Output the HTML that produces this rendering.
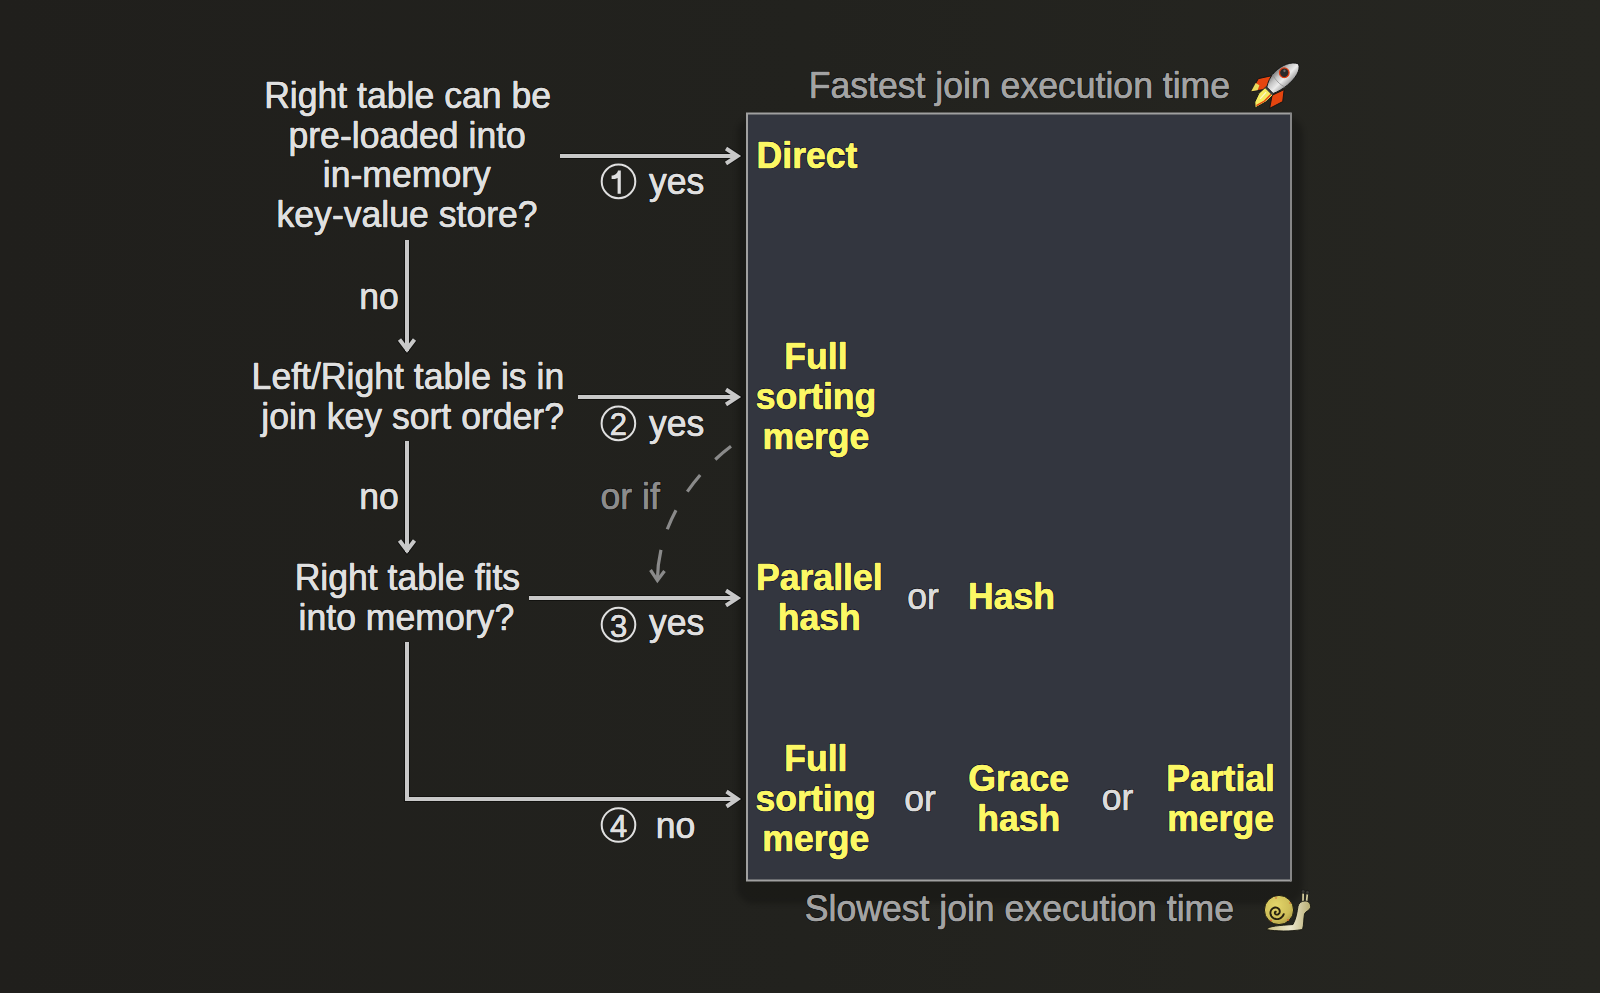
<!DOCTYPE html>
<html><head><meta charset="utf-8">
<style>
html,body{margin:0;padding:0;background:#21211d;width:1600px;height:993px;overflow:hidden}
svg{display:block}
text{font-family:"Liberation Sans",sans-serif;font-size:35.6px}
.q{fill:#e0e0e0}
text{paint-order:stroke;stroke-linejoin:round}
.h{stroke:rgba(0,0,0,0.6);stroke-width:2.0px}
.y.h{stroke:rgba(0,0,50,0.8)}
.t{stroke-width:0.6px}
.q.t,.dg.t{stroke:#e0e0e0} .y.t{stroke:#fcf864} .g.t{stroke:#a3a3a3} .or.t{stroke:#dcdcdc} .oi.t{stroke:#8c8c8c}
.y{fill:#fcf864;font-weight:bold}
.g{fill:#a3a3a3}
.or{fill:#dcdcdc}
.oi{fill:#8c8c8c}
.dg{fill:#e0e0e0;font-size:31px}
.arr{stroke:#c8c8c8;stroke-width:4;fill:none;stroke-linecap:butt;stroke-linejoin:miter}
</style></head>
<body>
<svg width="1600" height="993" viewBox="0 0 1600 993">
<defs>
<filter id="sh" x="-10%" y="-10%" width="120%" height="120%"><feGaussianBlur stdDeviation="2.5"/></filter>
</defs>
<linearGradient id="bgg" x1="0" y1="0" x2="1" y2="0"><stop offset="0" stop-color="#201f1c"/><stop offset="0.5" stop-color="#22221e"/><stop offset="1" stop-color="#262621"/></linearGradient>
<rect width="1600" height="993" fill="url(#bgg)"/>
<!-- box -->
<rect x="737" y="116" width="566" height="788" rx="18" fill="#000" opacity="0.2" filter="url(#sh)"/>
<rect x="747" y="113.5" width="544" height="767.5" fill="#33363f"/>
<path d="M746 113.5 H1290.5 M747 112.5 V881.5 M746 880.5 H1291" stroke="#a0a0a0" stroke-width="2" fill="none"/>
<path d="M1291 112.5 V881.5" stroke="#868686" stroke-width="2"/>
<!-- circled numbers -->
<g fill="none" stroke="#e0e0e0" stroke-width="2">
<circle cx="618.5" cy="181.4" r="16.8"/>
<circle cx="618.4" cy="423.4" r="16.8"/>
<circle cx="618.5" cy="624.6" r="16.8"/>
<circle cx="618.5" cy="825" r="16.8"/>
</g>
<path fill="#e0e0e0" d="M611.6 175.6 C614.6 175.4 617.2 174.2 618 170.6 L620.8 170.6 L620.8 193.7 L617.6 193.7 L617.6 177.9 C616 178.8 614 179.1 611.6 179.1 Z"/>
<text class="dg h" x="618.4" y="0" text-anchor="middle" transform="translate(0 435.4) scale(1 1.035)">2</text><text class="dg t" x="618.4" y="0" text-anchor="middle" transform="translate(0 435.4) scale(1 1.035)">2</text>
<text class="dg h" x="618.5" y="0" text-anchor="middle" transform="translate(0 636.6) scale(1 1.035)">3</text><text class="dg t" x="618.5" y="0" text-anchor="middle" transform="translate(0 636.6) scale(1 1.035)">3</text>
<text class="dg h" x="618.5" y="0" text-anchor="middle" transform="translate(0 837) scale(1 1.035)">4</text><text class="dg t" x="618.5" y="0" text-anchor="middle" transform="translate(0 837) scale(1 1.035)">4</text>
<!-- arrows -->
<g class="arr" style="stroke:rgba(0,0,0,0.45);stroke-width:6">
<path d="M407 240 V351"/><path d="M399.5 339.5 L407 349.5 L414.5 339.5"/>
<path d="M407 441 V552"/><path d="M399.5 540.5 L407 550.5 L414.5 540.5"/>
<path d="M407 642 V799 H737"/><path d="M726.5 791.5 L737.5 799 L726.5 806.5"/>
<path d="M560 156 H737"/><path d="M726 148.5 L737.5 156 L726 163.5"/>
<path d="M578 397 H737"/><path d="M726 389.5 L737.5 397 L726 404.5"/>
<path d="M529 598 H737"/><path d="M726 590.5 L737.5 598 L726 605.5"/>
</g>
<g class="arr">
<path d="M407 240 V351"/><path d="M399.5 339.5 L407 349.5 L414.5 339.5"/>
<path d="M407 441 V552"/><path d="M399.5 540.5 L407 550.5 L414.5 540.5"/>
<path d="M407 642 V799 H737"/><path d="M726.5 791.5 L737.5 799 L726.5 806.5"/>
<path d="M560 156 H737"/><path d="M726 148.5 L737.5 156 L726 163.5"/>
<path d="M578 397 H737"/><path d="M726 389.5 L737.5 397 L726 404.5"/>
<path d="M529 598 H737"/><path d="M726 590.5 L737.5 598 L726 605.5"/>
</g>
<path d="M731 446.3 C688.6 478.2 657.7 528.4 657.4 580" fill="none" stroke="#8a8a8a" stroke-width="3.2" stroke-dasharray="20.5 21.7 21 21.7 21 21.6 60"/>
<path d="M650.5 570 L657.4 580.5 L664.5 571" fill="none" stroke="#8a8a8a" stroke-width="3.2"/>
<!-- text -->
<text class="g h" x="1019.4" y="0" text-anchor="middle" transform="translate(0 97.8) scale(1 1.035)">Fastest join execution time</text><text class="g t" x="1019.4" y="0" text-anchor="middle" transform="translate(0 97.8) scale(1 1.035)">Fastest join execution time</text>
<text class="g h" x="1019.4" y="0" text-anchor="middle" transform="translate(0 921.3) scale(1 1.035)">Slowest join execution time</text><text class="g t" x="1019.4" y="0" text-anchor="middle" transform="translate(0 921.3) scale(1 1.035)">Slowest join execution time</text>
<text class="q h" x="407.6" y="0" text-anchor="middle" transform="translate(0 107.6) scale(1 1.035)">Right table can be</text><text class="q t" x="407.6" y="0" text-anchor="middle" transform="translate(0 107.6) scale(1 1.035)">Right table can be</text>
<text class="q h" x="407.2" y="0" text-anchor="middle" transform="translate(0 147.5) scale(1 1.035)">pre-loaded into</text><text class="q t" x="407.2" y="0" text-anchor="middle" transform="translate(0 147.5) scale(1 1.035)">pre-loaded into</text>
<text class="q h" x="406.8" y="0" text-anchor="middle" transform="translate(0 187.4) scale(1 1.035)">in-memory</text><text class="q t" x="406.8" y="0" text-anchor="middle" transform="translate(0 187.4) scale(1 1.035)">in-memory</text>
<text class="q h" x="407.1" y="0" text-anchor="middle" transform="translate(0 227.3) scale(1 1.035)">key-value store?</text><text class="q t" x="407.1" y="0" text-anchor="middle" transform="translate(0 227.3) scale(1 1.035)">key-value store?</text>
<text class="q h" x="407.9" y="0" text-anchor="middle" transform="translate(0 389) scale(1 1.035)">Left/Right table is in</text><text class="q t" x="407.9" y="0" text-anchor="middle" transform="translate(0 389) scale(1 1.035)">Left/Right table is in</text>
<text class="q h" x="412.7" y="0" text-anchor="middle" transform="translate(0 429) scale(1 1.035)">join key sort order?</text><text class="q t" x="412.7" y="0" text-anchor="middle" transform="translate(0 429) scale(1 1.035)">join key sort order?</text>
<text class="q h" x="407.4" y="0" text-anchor="middle" transform="translate(0 589.5) scale(1 1.035)">Right table fits</text><text class="q t" x="407.4" y="0" text-anchor="middle" transform="translate(0 589.5) scale(1 1.035)">Right table fits</text>
<text class="q h" x="406.4" y="0" text-anchor="middle" transform="translate(0 629.6) scale(1 1.035)">into memory?</text><text class="q t" x="406.4" y="0" text-anchor="middle" transform="translate(0 629.6) scale(1 1.035)">into memory?</text>
<text class="q h" x="379" y="0" text-anchor="middle" transform="translate(0 308.5) scale(1 1.035)">no</text><text class="q t" x="379" y="0" text-anchor="middle" transform="translate(0 308.5) scale(1 1.035)">no</text>
<text class="q h" x="379" y="0" text-anchor="middle" transform="translate(0 509.2) scale(1 1.035)">no</text><text class="q t" x="379" y="0" text-anchor="middle" transform="translate(0 509.2) scale(1 1.035)">no</text>
<text class="q h" x="649" y="0" text-anchor="start" transform="translate(0 194.1) scale(1 1.035)">yes</text><text class="q t" x="649" y="0" text-anchor="start" transform="translate(0 194.1) scale(1 1.035)">yes</text>
<text class="q h" x="649" y="0" text-anchor="start" transform="translate(0 435.8) scale(1 1.035)">yes</text><text class="q t" x="649" y="0" text-anchor="start" transform="translate(0 435.8) scale(1 1.035)">yes</text>
<text class="q h" x="649" y="0" text-anchor="start" transform="translate(0 634.5) scale(1 1.035)">yes</text><text class="q t" x="649" y="0" text-anchor="start" transform="translate(0 634.5) scale(1 1.035)">yes</text>
<text class="q h" x="655.7" y="0" text-anchor="start" transform="translate(0 837.5) scale(1 1.035)">no</text><text class="q t" x="655.7" y="0" text-anchor="start" transform="translate(0 837.5) scale(1 1.035)">no</text>
<text class="oi h" x="600.5" y="0" text-anchor="start" transform="translate(0 509.4) scale(1 1.035)">or if</text><text class="oi t" x="600.5" y="0" text-anchor="start" transform="translate(0 509.4) scale(1 1.035)">or if</text>
<text class="y h" x="807" y="0" text-anchor="middle" transform="translate(0 168.3) scale(1 1.035)">Direct</text><text class="y t" x="807" y="0" text-anchor="middle" transform="translate(0 168.3) scale(1 1.035)">Direct</text>
<text class="y h" x="816" y="0" text-anchor="middle" transform="translate(0 369.3) scale(1 1.035)">Full</text><text class="y t" x="816" y="0" text-anchor="middle" transform="translate(0 369.3) scale(1 1.035)">Full</text>
<text class="y h" x="816" y="0" text-anchor="middle" transform="translate(0 409) scale(1 1.035)">sorting</text><text class="y t" x="816" y="0" text-anchor="middle" transform="translate(0 409) scale(1 1.035)">sorting</text>
<text class="y h" x="816" y="0" text-anchor="middle" transform="translate(0 449.1) scale(1 1.035)">merge</text><text class="y t" x="816" y="0" text-anchor="middle" transform="translate(0 449.1) scale(1 1.035)">merge</text>
<text class="y h" x="819.3" y="0" text-anchor="middle" transform="translate(0 590) scale(1 1.035)">Parallel</text><text class="y t" x="819.3" y="0" text-anchor="middle" transform="translate(0 590) scale(1 1.035)">Parallel</text>
<text class="y h" x="819.3" y="0" text-anchor="middle" transform="translate(0 630) scale(1 1.035)">hash</text><text class="y t" x="819.3" y="0" text-anchor="middle" transform="translate(0 630) scale(1 1.035)">hash</text>
<text class="y h" x="1011.5" y="0" text-anchor="middle" transform="translate(0 609.4) scale(1 1.035)">Hash</text><text class="y t" x="1011.5" y="0" text-anchor="middle" transform="translate(0 609.4) scale(1 1.035)">Hash</text>
<text class="y h" x="815.8" y="0" text-anchor="middle" transform="translate(0 770.6) scale(1 1.035)">Full</text><text class="y t" x="815.8" y="0" text-anchor="middle" transform="translate(0 770.6) scale(1 1.035)">Full</text>
<text class="y h" x="815.8" y="0" text-anchor="middle" transform="translate(0 810.7) scale(1 1.035)">sorting</text><text class="y t" x="815.8" y="0" text-anchor="middle" transform="translate(0 810.7) scale(1 1.035)">sorting</text>
<text class="y h" x="815.8" y="0" text-anchor="middle" transform="translate(0 850.8) scale(1 1.035)">merge</text><text class="y t" x="815.8" y="0" text-anchor="middle" transform="translate(0 850.8) scale(1 1.035)">merge</text>
<text class="y h" x="1018.7" y="0" text-anchor="middle" transform="translate(0 790.8) scale(1 1.035)">Grace</text><text class="y t" x="1018.7" y="0" text-anchor="middle" transform="translate(0 790.8) scale(1 1.035)">Grace</text>
<text class="y h" x="1018.7" y="0" text-anchor="middle" transform="translate(0 830.7) scale(1 1.035)">hash</text><text class="y t" x="1018.7" y="0" text-anchor="middle" transform="translate(0 830.7) scale(1 1.035)">hash</text>
<text class="y h" x="1220.6" y="0" text-anchor="middle" transform="translate(0 790.8) scale(1 1.035)">Partial</text><text class="y t" x="1220.6" y="0" text-anchor="middle" transform="translate(0 790.8) scale(1 1.035)">Partial</text>
<text class="y h" x="1220.6" y="0" text-anchor="middle" transform="translate(0 830.7) scale(1 1.035)">merge</text><text class="y t" x="1220.6" y="0" text-anchor="middle" transform="translate(0 830.7) scale(1 1.035)">merge</text>
<text class="or h" x="923" y="0" text-anchor="middle" transform="translate(0 609.4) scale(1 1.035)">or</text><text class="or t" x="923" y="0" text-anchor="middle" transform="translate(0 609.4) scale(1 1.035)">or</text>
<text class="or h" x="920" y="0" text-anchor="middle" transform="translate(0 810.7) scale(1 1.035)">or</text><text class="or t" x="920" y="0" text-anchor="middle" transform="translate(0 810.7) scale(1 1.035)">or</text>
<text class="or h" x="1117.5" y="0" text-anchor="middle" transform="translate(0 810.1) scale(1 1.035)">or</text><text class="or t" x="1117.5" y="0" text-anchor="middle" transform="translate(0 810.1) scale(1 1.035)">or</text>
<!-- rocket -->
<g transform="translate(1276 85) rotate(45)">
<defs>
<linearGradient id="rb" x1="0" y1="0" x2="1" y2="0">
<stop offset="0" stop-color="#7a7a7a"/><stop offset="0.3" stop-color="#c4c4c4"/><stop offset="0.62" stop-color="#ececec"/><stop offset="1" stop-color="#9c9c9c"/>
</linearGradient>
</defs>
<path d="M-9 -4.5 L-17 8 L-13 22 L-4 10 Z" fill="#e5450f" stroke="#141414" stroke-width="0.9"/>
<path d="M-15.8 13 L-13 22 L-9.2 16.8 L-11.5 12 Z" fill="#eadb5e"/>
<path d="M9 -2.5 L16.5 7 L12 21 L4.5 10 Z" fill="#e5450f" stroke="#141414" stroke-width="0.9"/>
<path d="M-5.8 9 L5 9 L4.8 19 L1.5 31 L-3 27 L-6.2 18 Z" fill="#f4ec60" stroke="#141414" stroke-width="0.9"/>
<path d="M3 10 L3.2 19.5 L0.8 28.5" fill="none" stroke="#e5450f" stroke-width="1.4"/>
<path d="M-2 12 L-1.5 21" fill="none" stroke="#fbf7d0" stroke-width="1.2"/>
<rect x="-6" y="6.5" width="10.5" height="3.5" fill="#3c3c3c"/>
<path d="M1 -30.8 C7.5 -28 9 -18 8.2 -8 C7.6 -2 6 4 4 8 L-5 8 C-7.6 4 -10.2 -2 -10.2 -8 C-10.2 -18 -6 -28 1 -30.8 Z" fill="url(#rb)" stroke="#141414" stroke-width="0.9"/>
<path d="M-9.8 -5 C-4 -3 3 -3 8 -5" fill="none" stroke="#8a8a8a" stroke-width="0.7"/>
<circle cx="-2.8" cy="-14.5" r="4.8" fill="#2a2a2a" stroke="#e23c10" stroke-width="1.3"/>
<circle cx="-4" cy="-16" r="1.2" fill="#6a6a6a"/>
</g>
<!-- snail -->
<g>
<defs>
<radialGradient id="sh1" cx="0.4" cy="0.35" r="0.7">
<stop offset="0" stop-color="#e4d66a"/><stop offset="0.7" stop-color="#cdbd58"/><stop offset="1" stop-color="#ad9a45"/>
</radialGradient>
<linearGradient id="bd" x1="0" y1="0" x2="1" y2="0">
<stop offset="0" stop-color="#c8bc80"/><stop offset="0.55" stop-color="#ebe6cc"/><stop offset="1" stop-color="#b8ad72"/>
</linearGradient>
</defs>
<path d="M1303 901 L1303.2 891.5 M1306.6 901 L1307.5 892.3" stroke="#d8d0a0" stroke-width="1.7"/>
<circle cx="1303.2" cy="891.5" r="1.9" fill="#3a3a36" stroke="#111" stroke-width="0.6"/>
<circle cx="1307.5" cy="892.3" r="1.9" fill="#3a3a36" stroke="#111" stroke-width="0.6"/>
<path d="M1266.5 929.5 C1268 926 1280 925.5 1293 924.5 C1296.5 918 1297 912 1298 906.5 C1298.6 903 1301.5 901 1305 901 C1309 901 1311 904 1310.5 907.5 C1310 910.5 1305.5 911 1304.5 914 C1303.5 919 1304 925 1302.5 929.5 C1290 931.5 1276 931.5 1266.5 929.5 Z" fill="url(#bd)" stroke="#15150f" stroke-width="0.9"/>
<circle cx="1279" cy="910" r="14.6" fill="url(#sh1)" stroke="#15150f" stroke-width="0.9"/>
<path d="M1275.82 911.73 L1275.66 911.72 L1275.49 911.76 L1275.31 911.84 L1275.15 911.96 L1275.00 912.14 L1274.89 912.35 L1274.82 912.60 L1274.80 912.88 L1274.83 913.17 L1274.93 913.47 L1275.09 913.77 L1275.31 914.04 L1275.60 914.27 L1275.94 914.46 L1276.33 914.60 L1276.75 914.66 L1277.20 914.64 L1277.65 914.55 L1278.10 914.36 L1278.53 914.09 L1278.92 913.73 L1279.25 913.30 L1279.51 912.80 L1279.68 912.24 L1279.76 911.64 L1279.73 911.01 L1279.58 910.39 L1279.33 909.77 L1278.96 909.20 L1278.49 908.68 L1277.92 908.24 L1277.26 907.89 L1276.53 907.65 L1275.76 907.54 L1274.96 907.56 L1274.15 907.73 L1273.37 908.03 L1272.63 908.48 L1271.96 909.05 L1271.39 909.75 L1270.93 910.55 L1270.61 911.43 L1270.44 912.38 L1270.44 913.36 L1270.60 914.35 L1270.93 915.32 L1271.43 916.23 L1272.09 917.06 L1272.90 917.78 L1273.83 918.36 L1274.87 918.79 L1275.99 919.04 L1277.14 919.10 L1278.32 918.96 L1279.47 918.62 L1280.56 918.08 L1281.57 917.35 L1282.45 916.45 L1283.18 915.40 L1283.73 914.22" fill="none" stroke="#262010" stroke-width="1.9" stroke-linecap="round"/>
<circle cx="1271" cy="920.5" r="0.9" fill="#d8602a"/><circle cx="1288" cy="920" r="0.9" fill="#d8602a"/><circle cx="1290" cy="903" r="0.8" fill="#d8602a"/><circle cx="1276" cy="898" r="0.8" fill="#d8602a"/>
</g>

</svg>
</body></html>
